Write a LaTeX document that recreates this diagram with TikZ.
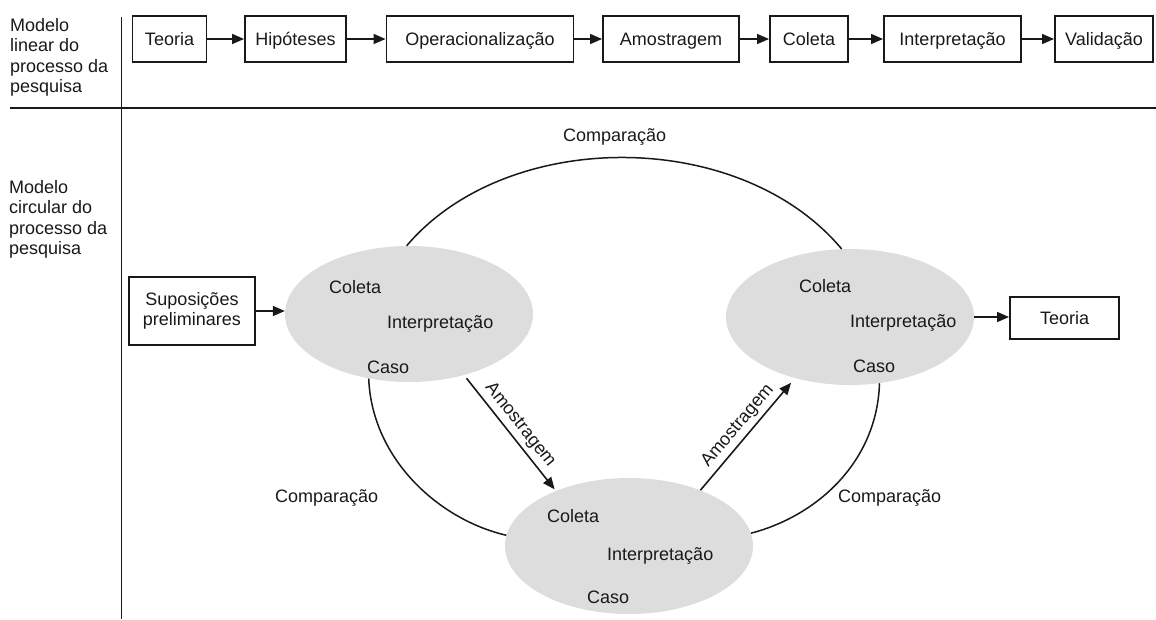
\documentclass[tikz,border=0pt]{standalone}
\usepackage{fontspec}
\setmainfont{Liberation Sans}
\usetikzlibrary{shapes.geometric,arrows.meta}
\definecolor{blobgray}{RGB}{221,221,221}
\definecolor{inkc}{RGB}{25,25,25}
\begin{document}
\begin{tikzpicture}[x=1pt,y=-1pt,
  every node/.style={font=\fontsize{18}{20.5}\selectfont, text=inkc},
  box/.style={draw=inkc, line width=1.9pt, inner sep=0pt, minimum height=46pt, text height=13pt, text depth=0pt},
  sbox/.style={draw=inkc, line width=1.9pt, inner sep=0pt, minimum width=126pt, minimum height=68pt, align=center},
  blob/.style={ellipse, fill=blobgray, inner sep=0pt, minimum width=248pt, minimum height=136pt},
  txt/.style={inner sep=0pt, anchor=base west},
  side/.style={inner sep=0pt, anchor=north west, align=left},
  link/.style={draw=inkc, line width=1.6pt, -{Triangle[length=12pt,width=10pt]}},
  curve/.style={draw=inkc, line width=1.5pt},
  rule/.style={draw=inkc, line width=1.8pt},
  slab/.style={sloped, above, inner sep=4pt}]
\useasboundingbox (0,0) rectangle (1156,619);

% dividers
\coordinate (vt) at (121.5,17);
\coordinate (vb) at (121.5,619);
\coordinate (hl) at (10,108);
\coordinate (hr) at (1156,108);
\draw[rule] (vt) -- (vb);
\draw[rule] (hl) -- (hr);

% side labels
\node[side] (m1) at (10,17.8) {Modelo\\linear do\\processo da\\pesquisa};
\node[side] (m2) at (9,180) {Modelo\\circular do\\processo da\\pesquisa};

% linear model
\node[box, minimum width=74pt]  (t1) at (169.5,39) {Teoria};
\node[box, minimum width=101pt] (t2) at (295.5,39) {Hipóteses};
\node[box, minimum width=187pt] (t3) at (480,39) {Operacionalização};
\node[box, minimum width=136pt] (t4) at (671,39) {Amostragem};
\node[box, minimum width=78pt]  (t5) at (809,39) {Coleta};
\node[box, minimum width=137pt] (t6) at (952.5,39) {Interpretação};
\node[box, minimum width=98pt]  (t7) at (1104,39) {Validação};
\foreach \a/\b in {t1/t2,t2/t3,t3/t4,t4/t5,t5/t6,t6/t7}
  \draw[link] (\a) -- (\b);

% circular model
\node[blob] (L) at (409,314) {};
\node[blob] (R) at (850,317) {};
\node[blob] (B) at (629,546) {};

\node[txt] (lc) at (329,293) {Coleta};
\node[txt] (li) at (387,328) {Interpretação};
\node[txt] (lk) at (367,373) {Caso};
\node[txt] (rc) at (799,292) {Coleta};
\node[txt] (ri) at (850,327) {Interpretação};
\node[txt] (rk) at (853,372) {Caso};
\node[txt] (bc) at (547,522) {Coleta};
\node[txt] (bi) at (607,560) {Interpretação};
\node[txt] (bk) at (587,603) {Caso};

\node[sbox] (sp) at (192,311) {Suposições\\preliminares};
\draw[link] (sp.east) -- (sp.east -| L.west);

\node[box, minimum width=109pt, minimum height=42pt] (tf) at (1064.5,318) {Teoria};
\draw[link] (R.east) -- (R.east -| tf.west);

\draw[curve] (L.92) .. controls (507,127.5) and (740,127.5) .. (R.97);
\draw[curve] (L.238) .. controls (372,460) and (440,520) .. (B.175);
\draw[curve] (B.6) .. controls (817,516) and (877,462) .. (R.294);

\draw[link, shorten <=4pt, shorten >=2pt] (L.-48) -- node[slab] {Amostragem} (B.143);
\draw[link, shorten >=6pt] (B.38) -- node[slab] {Amostragem} (R.228);

\node[txt] (c1) at (563,141) {Comparação};
\node[txt] (c2) at (275,502) {Comparação};
\node[txt] (c3) at (838,502) {Comparação};
\end{tikzpicture}
\end{document}
